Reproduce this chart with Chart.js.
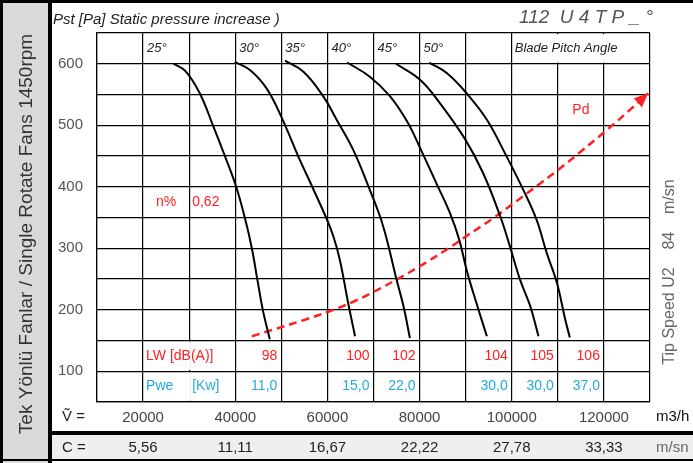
<!DOCTYPE html>
<html>
<head>
<meta charset="utf-8">
<script src="https://cdn.jsdelivr.net/npm/chart.js"></script>
<style>
  html, body { margin: 0; padding: 0; background: #fff; }
  #wrap { width: 693px; height: 463px; position: relative; }
</style>
</head>
<body>
<div id="wrap"><canvas id="fan"></canvas></div>
<script>
const FONT = "Arial, 'Liberation Sans', Helvetica, sans-serif";

// blade pitch curves, flow (m3/h) and static pressure (Pa)
const flow25 = [26600, 29200, 32300, 35200, 37800, 40200, 42100, 43600, 44800, 46000, 47500];
const pst25  = [600, 588, 552, 499, 449, 400, 349, 300, 249, 199, 152];
const flow30 = [39900, 43200, 46800, 50100, 53700, 56700, 59700, 61300, 62700, 64500, 66000];
const pst30  = [603, 590, 560, 512, 449, 400, 350, 319, 281, 211, 157];
const flow35 = [50800, 54800, 59100, 62000, 65600, 69200, 71400, 72900, 75000, 76500, 77900];
const pst35  = [605, 587, 547, 509, 460, 395, 352, 314, 249, 206, 154];
const flow40 = [64300, 69200, 73600, 77300, 80300, 83800, 86600, 88600, 90300, 92500, 94600];
const pst40  = [602, 579, 547, 506, 460, 403, 357, 314, 262, 207, 157];
const flow45 = [74900, 80100, 84400, 89900, 93800, 97500, 99600, 101800, 104000, 105800];
const pst45  = [600, 574, 536, 477, 422, 352, 303, 249, 206, 157];
const flow50 = [82100, 85900, 90200, 94600, 98900, 102500, 105400, 107600, 109800, 111600, 112600];
const pst50  = [602, 585, 552, 509, 449, 395, 346, 292, 244, 184, 155];

// dynamic pressure line
const flowPd = [43600, 47500, 54800, 60600, 65600, 70000, 75000, 80100, 85900, 90200, 96000, 101100, 106100, 110500, 114800, 120600, 126400, 129600];
const pd     = [157, 166, 183, 198, 213, 229, 249, 271, 298, 320, 349, 377, 405, 430, 456, 492, 530, 552];

// table texts
const angles = ['25°', '30°', '35°', '40°', '45°', '50°'];
const angleCol = [20000, 40000, 50000, 60000, 70000, 80000];
const lwValues = ['98', '100', '102', '104', '105', '106'];
const pweValues = ['11,0', '15,0', '22,0', '30,0', '30,0', '37,0'];
const valueCol = [40000, 60000, 70000, 90000, 100000, 110000];

// axis labels
const flowTicks = [20000, 40000, 60000, 80000, 100000, 120000];
const cLabels = ['5,56', '11,11', '16,67', '22,22', '27,78', '33,33'];

const RED = '#ff2020';
const BLUE = '#22a9e6';

function pts(xs, ys) { return xs.map((x, i) => ({ x, y: ys[i] })); }

function curve(xs, ys) {
  return { data: pts(xs, ys), borderColor: '#000', borderWidth: 2, pointRadius: 0, tension: 0.4, fill: false };
}

function text(ctx, s, x, y, font, color, align) {
  ctx.font = font;
  ctx.fillStyle = color;
  ctx.textAlign = align || 'left';
  ctx.textBaseline = 'middle';
  ctx.fillText(s, x, y);
}

const decor = {
  id: 'decor',
  beforeDraw(chart) {
    const { ctx, width, height } = chart;
    ctx.save();
    ctx.fillStyle = '#fff';
    ctx.fillRect(0, 0, width, height);
    ctx.fillStyle = '#d9d9d9';
    ctx.fillRect(3, 3, 45, height - 3);
    ctx.fillStyle = '#efefef';
    ctx.fillRect(52, 435, width - 52, 25);
    ctx.fillStyle = '#000';
    ctx.fillRect(0, 0, width, 3);
    ctx.fillRect(0, 0, 3, height);
    ctx.fillRect(48, 0, 4, height);
    ctx.fillRect(52, 431, width - 52, 4);
    ctx.fillRect(0, 459, width, 2);
    ctx.restore();
  },
  beforeDatasetsDraw(chart) {
    // merged table cells: wipe grid segments
    const { ctx } = chart;
    const xs = chart.scales.x, ys = chart.scales.y;
    ctx.save();
    ctx.fillStyle = '#fff';
    const gap = (xv, v0, v1) => {
      const px = xs.getPixelForValue(xv);
      for (let v = v0; v < v1; v += 50) {
        const a = ys.getPixelForValue(v + 50), b = ys.getPixelForValue(v);
        ctx.fillRect(px - 1.5, a + 1.2, 3, b - a - 2.4);
      }
    };
    gap(110000, 600, 650);
    gap(120000, 600, 650);
    gap(30000, 50, 150);
    ctx.restore();
  },
  afterDraw(chart) {
    const { ctx } = chart;
    const xs = chart.scales.x, ys = chart.scales.y;
    const px = v => xs.getPixelForValue(v);
    const py = v => ys.getPixelForValue(v);
    ctx.save();

    // arrow head on Pd
    const meta = chart.getDatasetMeta(6).data;
    const p1 = meta[meta.length - 2], p2 = meta[meta.length - 1];
    const ang = Math.atan2(p2.y - p1.y, p2.x - p1.x);
    ctx.fillStyle = RED;
    ctx.beginPath();
    ctx.moveTo(p2.x, p2.y);
    ctx.lineTo(p2.x - 14 * Math.cos(ang) + 6 * Math.sin(ang), p2.y - 14 * Math.sin(ang) - 6 * Math.cos(ang));
    ctx.lineTo(p2.x - 14 * Math.cos(ang) - 6 * Math.sin(ang), p2.y - 14 * Math.sin(ang) + 6 * Math.cos(ang));
    ctx.closePath();
    ctx.fill();

    // headings
    text(ctx, 'Pst [Pa] Static pressure increase )', 53, 20, `italic 15px ${FONT}`, '#222');
    text(ctx, '112  U 4 T P _ °', 653, 18, `italic 19px ${FONT}`, '#555', 'right');
    angles.forEach((a, i) => text(ctx, a, px(angleCol[i]) + 4, py(625), `italic 13px ${FONT}`, '#222'));
    text(ctx, 'Blade Pitch Angle', px(100000) + 3, py(625), `italic 13px ${FONT}`, '#222');

    // in-plot labels
    text(ctx, 'n%', (px(20000) + px(30000)) / 2, py(375), `14px ${FONT}`, RED, 'center');
    text(ctx, '0,62', px(30000) + 3, py(375), `14px ${FONT}`, RED);
    text(ctx, 'Pd', (px(110000) + px(120000)) / 2, py(525), `14px ${FONT}`, RED, 'center');

    // LW and Pwe rows
    text(ctx, 'LW [dB(A)]', px(20000) + 3, py(125), `14px ${FONT}`, RED);
    text(ctx, 'Pwe', px(20000) + 3, py(75), `14px ${FONT}`, BLUE);
    text(ctx, '[Kw]', px(30000) + 3, py(75), `14px ${FONT}`, BLUE);
    valueCol.forEach((c, i) => {
      const r = px(c + 10000) - 4;
      text(ctx, lwValues[i], r, py(125), `14px ${FONT}`, RED, 'right');
      text(ctx, pweValues[i], r, py(75), `14px ${FONT}`, BLUE, 'right');
    });

    // bottom rows
    text(ctx, 'Ṽ =', 62, 417, `15px ${FONT}`, '#222');
    text(ctx, 'm3/h', 656, 417, `15px ${FONT}`, '#111');
    text(ctx, 'C =', 62, 448, `15px ${FONT}`, '#222');
    text(ctx, 'm/sn', 656, 448, `15px ${FONT}`, '#666');
    flowTicks.forEach((v, i) => text(ctx, cLabels[i], px(v), 448, `15px ${FONT}`, '#222', 'center'));

    // side captions
    ctx.save();
    ctx.translate(27, 234);
    ctx.rotate(-Math.PI / 2);
    text(ctx, 'Tek Yönlü Fanlar / Single Rotate Fans 1450rpm', 0, 0, `19px ${FONT}`, '#333', 'center');
    ctx.restore();
    ctx.save();
    ctx.translate(670, 272);
    ctx.rotate(-Math.PI / 2);
    text(ctx, 'Tip Speed U2    84    m/sn', 0, 0, `16px ${FONT}`, '#666', 'center');
    ctx.restore();

    ctx.restore();
  }
};

new Chart(document.getElementById('fan'), {
  type: 'line',
  data: {
    datasets: [
      curve(flow25, pst25),
      curve(flow30, pst30),
      curve(flow35, pst35),
      curve(flow40, pst40),
      curve(flow45, pst45),
      curve(flow50, pst50),
      { data: pts(flowPd, pd), borderColor: RED, borderWidth: 2.5, borderDash: [8, 5], pointRadius: 0, tension: 0.4, fill: false }
    ]
  },
  options: {
    responsive: true,
    maintainAspectRatio: false,
    animation: false,
    layout: { padding: { left: 0, top: 33, right: 43, bottom: 0 } },
    plugins: { legend: { display: false }, tooltip: { enabled: false } },
    scales: {
      x: {
        type: 'linear', min: 10000, max: 130000,
        ticks: {
          stepSize: 10000, autoSkip: false, maxRotation: 0, padding: 7,
          color: '#444', font: { size: 15, family: FONT },
          callback: v => (flowTicks.includes(v) ? String(v) : '')
        },
        grid: { color: '#000', lineWidth: 1.2, drawTicks: false },
        border: { color: '#000', width: 1.2 },
        afterFit: s => { s.height = 61; }
      },
      y: {
        min: 50, max: 650,
        ticks: {
          stepSize: 50, autoSkip: false, padding: 14,
          color: '#555', font: { size: 15, family: FONT },
          callback: v => (v % 100 === 0 && v >= 100 && v <= 600 ? String(v) : '')
        },
        grid: { color: '#000', lineWidth: 1.2, drawTicks: false },
        border: { color: '#000', width: 1.2 },
        afterFit: s => { s.width = 97; }
      }
    }
  },
  plugins: [decor]
});
</script>
</body>
</html>
